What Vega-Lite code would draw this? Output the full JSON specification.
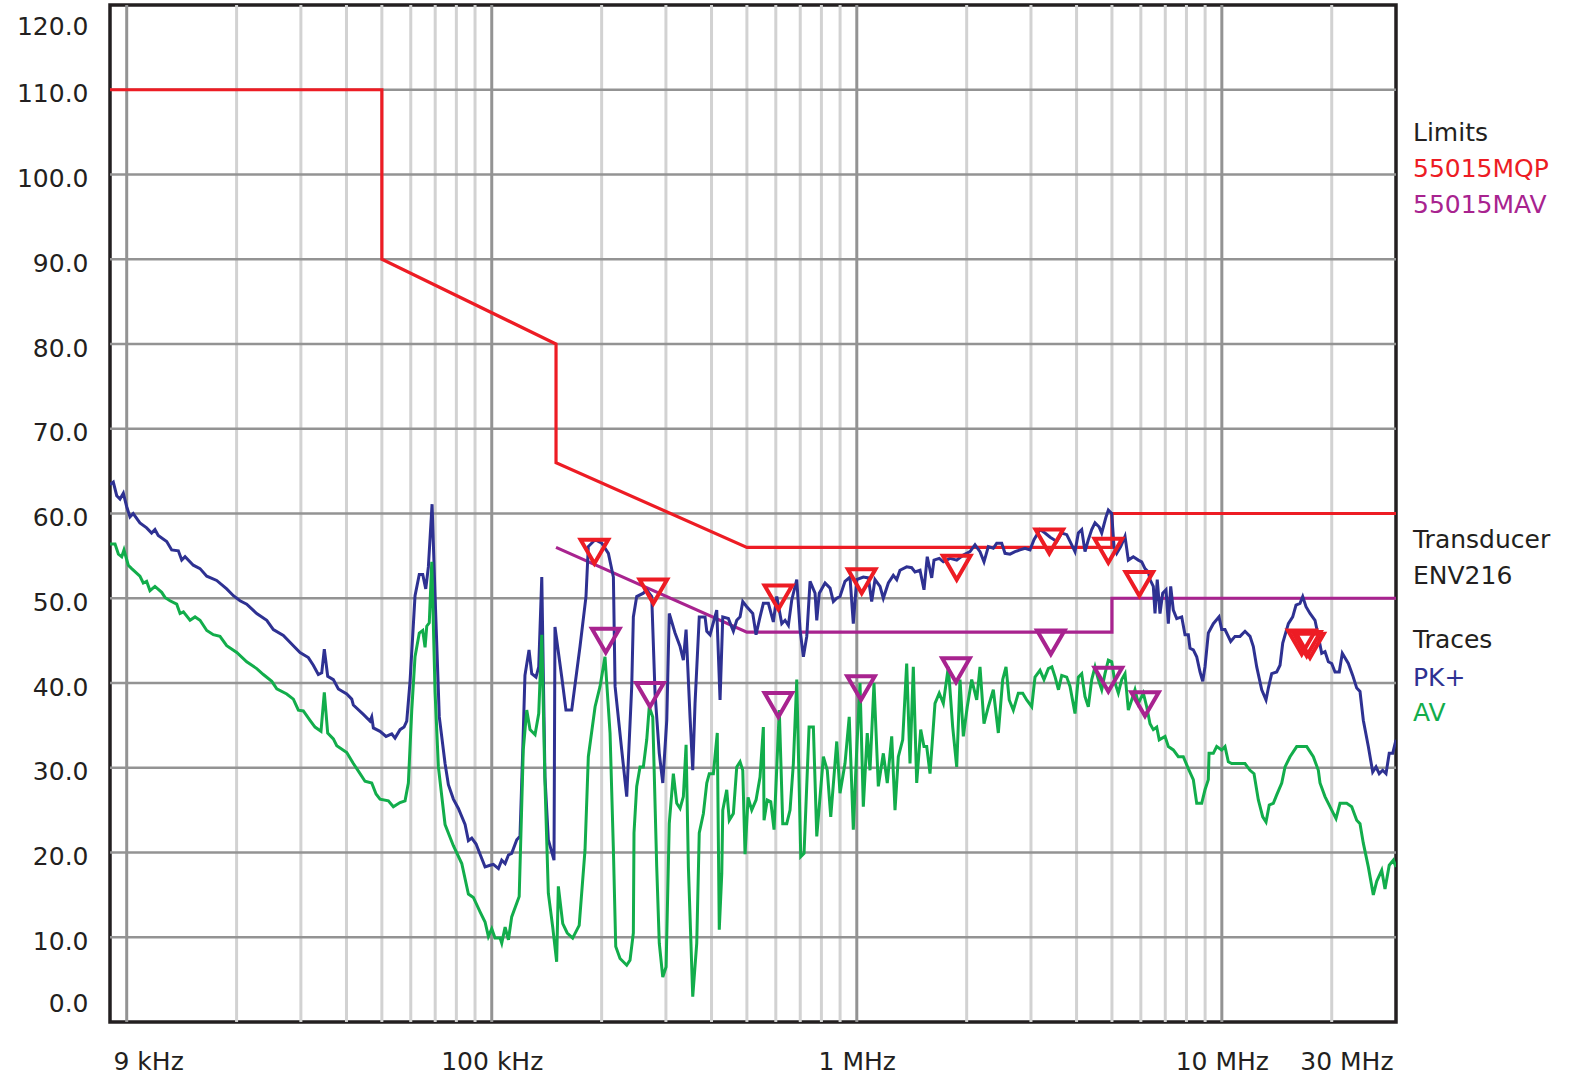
{
"$schema": "https://vega.github.io/schema/vega-lite/v6.json",
"width": 1286, "height": 1017,
"autosize": {"type": "none"},
"padding": {"left": 110, "top": 5, "right": 181, "bottom": 55},
"background": "white",
"config": {"view": {"stroke": "#231f20", "strokeWidth": 3.5}, "font": "DejaVu Sans"},
"datasets": {
"vmin": [{"f":20000},{"f":30000},{"f":40000},{"f":50000},{"f":60000},{"f":70000},{"f":80000},{"f":90000},{"f":200000},{"f":300000},{"f":400000},{"f":500000},{"f":600000},{"f":700000},{"f":800000},{"f":900000},{"f":2000000},{"f":3000000},{"f":4000000},{"f":5000000},{"f":6000000},{"f":7000000},{"f":8000000},{"f":9000000},{"f":20000000}],
"vmaj": [{"f":10000},{"f":100000},{"f":1000000},{"f":10000000}],
"hg": [{"v":10},{"v":20},{"v":30},{"v":40},{"v":50},{"v":60},{"v":70},{"v":80},{"v":90},{"v":100},{"v":110}],
"qp": [{"i":1,"f":9000,"v":110},{"i":2,"f":50000,"v":110},{"i":3,"f":50000,"v":90},{"i":4,"f":150000,"v":80},{"i":5,"f":150000,"v":66},{"i":6,"f":500000,"v":56},{"i":7,"f":5000000,"v":56},{"i":8,"f":5000000,"v":60},{"i":9,"f":30000000,"v":60}],
"avl": [{"i":1,"f":150000,"v":56},{"i":2,"f":500000,"v":46},{"i":3,"f":5000000,"v":46},{"i":4,"f":5000000,"v":50},{"i":5,"f":30000000,"v":50}],
"pk": [{"f":9000,"v":63.4},{"f":9190,"v":63.7},{"f":9390,"v":62.1},{"f":9586,"v":61.7},{"f":9790,"v":62.4},{"f":10000,"v":60.8},{"f":10210,"v":59.6},{"f":10420,"v":60.0},{"f":10870,"v":58.9},{"f":11340,"v":58.3},{"f":11700,"v":57.7},{"f":11950,"v":58.1},{"f":12200,"v":57.4},{"f":12870,"v":56.7},{"f":13280,"v":55.7},{"f":13850,"v":55.6},{"f":14150,"v":54.5},{"f":14450,"v":54.9},{"f":15220,"v":53.9},{"f":15880,"v":53.5},{"f":16570,"v":52.6},{"f":17640,"v":52.1},{"f":18790,"v":51.1},{"f":19600,"v":50.3},{"f":20440,"v":49.7},{"f":21320,"v":49.3},{"f":22710,"v":48.2},{"f":24190,"v":47.4},{"f":25220,"v":46.3},{"f":26860,"v":45.6},{"f":28610,"v":44.4},{"f":29840,"v":43.6},{"f":31450,"v":43.0},{"f":32450,"v":42.1},{"f":33490,"v":41.0},{"f":34220,"v":41.2},{"f":34780,"v":44.0},{"f":35530,"v":40.8},{"f":36820,"v":40.4},{"f":38000,"v":39.3},{"f":40070,"v":38.7},{"f":41350,"v":38.1},{"f":41770,"v":37.4},{"f":44490,"v":36.3},{"f":46410,"v":35.5},{"f":46910,"v":36.0},{"f":47390,"v":34.7},{"f":49430,"v":34.3},{"f":51340,"v":33.7},{"f":53220,"v":34.0},{"f":54330,"v":33.5},{"f":56080,"v":34.5},{"f":57510,"v":34.8},{"f":58500,"v":35.5},{"f":59730,"v":40.2},{"f":61640,"v":50.3},{"f":63310,"v":52.8},{"f":64710,"v":52.8},{"f":65950,"v":51.1},{"f":67050,"v":53.7},{"f":68630,"v":61.1},{"f":69940,"v":50.3},{"f":71830,"v":36.0},{"f":74490,"v":30.5},{"f":76070,"v":28.0},{"f":78500,"v":26.3},{"f":81020,"v":25.2},{"f":84510,"v":23.3},{"f":86300,"v":21.4},{"f":88160,"v":21.7},{"f":90590,"v":21.0},{"f":92900,"v":19.8},{"f":95870,"v":18.3},{"f":98950,"v":18.5},{"f":101000,"v":18.6},{"f":104300,"v":18.1},{"f":106500,"v":19.1},{"f":108800,"v":18.7},{"f":111100,"v":19.7},{"f":113400,"v":19.9},{"f":117100,"v":21.5},{"f":119500,"v":21.9},{"f":121600,"v":32.1},{"f":123300,"v":40.9},{"f":126500,"v":43.9},{"f":128700,"v":41.1},{"f":132200,"v":40.7},{"f":134500,"v":41.9},{"f":137100,"v":52.5},{"f":139900,"v":28.9},{"f":142900,"v":21.5},{"f":148100,"v":19.1},{"f":149000,"v":46.6},{"f":155500,"v":40.7},{"f":159700,"v":36.8},{"f":165600,"v":36.8},{"f":174500,"v":44.3},{"f":181200,"v":50.2},{"f":183900,"v":56.1},{"f":191900,"v":56.9},{"f":200100,"v":56.5},{"f":208700,"v":55.3},{"f":215400,"v":52.5},{"f":217700,"v":39.6},{"f":227000,"v":32.1},{"f":234300,"v":26.6},{"f":241800,"v":39.6},{"f":244300,"v":47.8},{"f":249500,"v":50.2},{"f":260200,"v":50.6},{"f":265800,"v":51.0},{"f":274300,"v":50.2},{"f":280100,"v":38.8},{"f":287700,"v":31.7},{"f":294100,"v":28.2},{"f":301600,"v":35.6},{"f":306400,"v":48.2},{"f":317800,"v":45.9},{"f":328000,"v":44.3},{"f":334900,"v":42.7},{"f":340700,"v":46.3},{"f":349300,"v":36.0},{"f":355300,"v":29.7},{"f":360500,"v":37.6},{"f":370200,"v":47.8},{"f":384000,"v":47.8},{"f":388200,"v":46.1},{"f":396300,"v":45.7},{"f":413400,"v":48.6},{"f":422100,"v":38.0},{"f":429400,"v":47.8},{"f":444900,"v":47.6},{"f":459100,"v":46.1},{"f":469000,"v":47.4},{"f":478900,"v":47.8},{"f":487100,"v":49.6},{"f":499600,"v":49.0},{"f":518800,"v":48.2},{"f":529700,"v":45.7},{"f":543200,"v":47.8},{"f":554700,"v":49.4},{"f":572500,"v":49.4},{"f":590800,"v":47.2},{"f":603600,"v":50.2},{"f":623000,"v":47.0},{"f":636000,"v":47.4},{"f":649500,"v":46.8},{"f":663500,"v":49.8},{"f":684800,"v":52.2},{"f":699200,"v":46.3},{"f":714000,"v":43.1},{"f":729400,"v":45.5},{"f":744700,"v":52.0},{"f":768500,"v":50.6},{"f":776900,"v":47.4},{"f":789300,"v":50.6},{"f":818600,"v":51.8},{"f":844800,"v":51.2},{"f":862600,"v":49.6},{"f":881300,"v":50.0},{"f":899500,"v":50.2},{"f":928300,"v":52.0},{"f":958100,"v":52.5},{"f":978300,"v":47.0},{"f":999500,"v":52.2},{"f":1042000,"v":52.5},{"f":1075500,"v":52.4},{"f":1098600,"v":49.6},{"f":1121700,"v":52.2},{"f":1157800,"v":51.4},{"f":1182200,"v":50.0},{"f":1220200,"v":51.8},{"f":1259100,"v":52.7},{"f":1286400,"v":52.2},{"f":1313300,"v":53.3},{"f":1370000,"v":53.7},{"f":1414000,"v":53.6},{"f":1443700,"v":53.1},{"f":1490000,"v":53.3},{"f":1528000,"v":51.0},{"f":1559600,"v":54.9},{"f":1604100,"v":52.4},{"f":1627500,"v":54.5},{"f":1682100,"v":54.7},{"f":1726100,"v":54.3},{"f":1800300,"v":54.7},{"f":1878100,"v":54.5},{"f":1958200,"v":55.1},{"f":2042500,"v":55.5},{"f":2107900,"v":56.3},{"f":2175400,"v":55.5},{"f":2230900,"v":54.3},{"f":2292700,"v":56.1},{"f":2366000,"v":55.9},{"f":2417200,"v":56.5},{"f":2494700,"v":56.5},{"f":2547000,"v":55.3},{"f":2628700,"v":55.2},{"f":2712800,"v":55.5},{"f":2799900,"v":55.7},{"f":2889500,"v":55.9},{"f":2982100,"v":55.7},{"f":3058100,"v":56.9},{"f":3176200,"v":58.1},{"f":3277800,"v":57.7},{"f":3385900,"v":57.2},{"f":3532200,"v":56.7},{"f":3642300,"v":57.7},{"f":3759100,"v":57.5},{"f":3838100,"v":56.7},{"f":3960900,"v":55.5},{"f":4045000,"v":57.7},{"f":4132000,"v":58.1},{"f":4218600,"v":55.5},{"f":4308100,"v":56.9},{"f":4401100,"v":58.1},{"f":4493400,"v":58.9},{"f":4614900,"v":58.4},{"f":4687500,"v":57.7},{"f":4816400,"v":59.6},{"f":4887400,"v":60.4},{"f":4992600,"v":60.0},{"f":5065300,"v":56.1},{"f":5152700,"v":55.3},{"f":5284200,"v":56.1},{"f":5429400,"v":57.3},{"f":5544600,"v":54.5},{"f":5721300,"v":54.9},{"f":5905100,"v":54.5},{"f":6032800,"v":54.3},{"f":6159300,"v":53.5},{"f":6290000,"v":53.1},{"f":6357000,"v":52.2},{"f":6491100,"v":51.4},{"f":6560400,"v":48.2},{"f":6653900,"v":52.2},{"f":6770900,"v":48.2},{"f":6887400,"v":50.6},{"f":7032300,"v":51.0},{"f":7135900,"v":47.0},{"f":7243400,"v":51.4},{"f":7363900,"v":48.6},{"f":7523300,"v":47.6},{"f":7764000,"v":47.8},{"f":7926800,"v":45.7},{"f":8095000,"v":45.7},{"f":8181000,"v":44.1},{"f":8353600,"v":43.9},{"f":8534400,"v":43.1},{"f":8714000,"v":41.3},{"f":8863900,"v":40.2},{"f":8992900,"v":41.9},{"f":9183700,"v":45.9},{"f":9476800,"v":47.0},{"f":9823900,"v":47.8},{"f":9992800,"v":46.3},{"f":10202000,"v":46.3},{"f":10575000,"v":44.9},{"f":10866000,"v":45.5},{"f":11215000,"v":45.5},{"f":11574000,"v":46.1},{"f":11946000,"v":45.5},{"f":12198000,"v":44.3},{"f":12462000,"v":41.9},{"f":12861000,"v":39.2},{"f":13215000,"v":38.0},{"f":13410000,"v":39.4},{"f":13697000,"v":41.1},{"f":14136000,"v":41.3},{"f":14436000,"v":42.1},{"f":14684000,"v":44.7},{"f":15214000,"v":47.0},{"f":15637000,"v":47.8},{"f":15966000,"v":49.2},{"f":16374000,"v":49.4},{"f":16656000,"v":50.2},{"f":17006000,"v":49.0},{"f":17441000,"v":48.2},{"f":17999000,"v":47.4},{"f":18304000,"v":45.9},{"f":18777000,"v":43.5},{"f":19170000,"v":43.7},{"f":19577000,"v":42.5},{"f":20000000,"v":42.3},{"f":20419000,"v":41.3},{"f":20972000,"v":41.3},{"f":21382000,"v":43.5},{"f":22210000,"v":42.3},{"f":22832000,"v":40.9},{"f":23416000,"v":39.4},{"f":23906000,"v":39.0},{"f":24410000,"v":35.6},{"f":25195000,"v":32.5},{"f":25901000,"v":29.5},{"f":26446000,"v":30.1},{"f":26988000,"v":29.3},{"f":27587000,"v":29.7},{"f":28168000,"v":29.3},{"f":28746000,"v":31.7},{"f":29383000,"v":31.7},{"f":30000000,"v":33.3}],
"av": [{"f":9000,"v":56.4},{"f":9290,"v":56.4},{"f":9490,"v":55.2},{"f":9690,"v":54.9},{"f":9830,"v":55.7},{"f":10100,"v":53.9},{"f":10320,"v":53.5},{"f":10870,"v":52.6},{"f":11100,"v":51.8},{"f":11340,"v":52.0},{"f":11580,"v":50.9},{"f":11950,"v":51.4},{"f":12470,"v":50.7},{"f":12730,"v":50.1},{"f":13140,"v":49.7},{"f":13710,"v":49.3},{"f":14000,"v":48.2},{"f":14300,"v":48.4},{"f":14910,"v":47.4},{"f":15390,"v":47.8},{"f":15880,"v":47.4},{"f":16570,"v":46.2},{"f":17270,"v":45.7},{"f":18010,"v":45.5},{"f":18790,"v":44.4},{"f":20020,"v":43.6},{"f":21320,"v":42.5},{"f":22710,"v":41.7},{"f":23680,"v":41.0},{"f":24970,"v":40.2},{"f":25770,"v":39.3},{"f":27440,"v":38.7},{"f":28610,"v":38.1},{"f":29530,"v":36.8},{"f":30470,"v":36.7},{"f":31780,"v":35.6},{"f":32800,"v":34.8},{"f":34060,"v":34.3},{"f":34780,"v":38.9},{"f":35530,"v":34.1},{"f":36820,"v":33.4},{"f":37620,"v":32.6},{"f":40070,"v":31.8},{"f":41770,"v":30.5},{"f":43120,"v":29.6},{"f":44960,"v":28.4},{"f":46910,"v":28.2},{"f":48200,"v":26.9},{"f":49430,"v":26.3},{"f":52100,"v":26.1},{"f":53760,"v":25.4},{"f":56080,"v":25.9},{"f":57870,"v":26.1},{"f":59100,"v":28.2},{"f":60380,"v":36.8},{"f":61640,"v":43.1},{"f":63310,"v":45.9},{"f":64710,"v":46.2},{"f":65660,"v":44.2},{"f":66370,"v":46.7},{"f":67430,"v":47.1},{"f":68500,"v":54.3},{"f":69940,"v":38.9},{"f":71420,"v":30.1},{"f":74490,"v":23.3},{"f":78500,"v":20.8},{"f":82770,"v":18.7},{"f":86300,"v":15.1},{"f":89060,"v":14.7},{"f":92900,"v":13.0},{"f":95870,"v":11.8},{"f":97910,"v":10.1},{"f":100000,"v":11.0},{"f":102100,"v":9.9},{"f":105400,"v":9.9},{"f":106500,"v":9.3},{"f":108800,"v":11.2},{"f":111100,"v":9.7},{"f":113400,"v":12.4},{"f":118900,"v":14.8},{"f":122000,"v":32.1},{"f":124700,"v":36.8},{"f":127300,"v":34.5},{"f":131400,"v":33.9},{"f":134500,"v":36.4},{"f":137100,"v":45.7},{"f":139900,"v":28.2},{"f":142900,"v":15.2},{"f":146900,"v":11.2},{"f":150600,"v":7.1},{"f":152200,"v":16.0},{"f":156500,"v":11.6},{"f":161000,"v":10.5},{"f":166600,"v":9.9},{"f":173600,"v":11.4},{"f":180100,"v":20.3},{"f":183900,"v":31.3},{"f":191900,"v":37.2},{"f":198000,"v":39.6},{"f":204300,"v":43.1},{"f":210900,"v":34.1},{"f":215400,"v":20.3},{"f":218600,"v":8.9},{"f":224600,"v":7.5},{"f":234300,"v":6.7},{"f":239200,"v":7.3},{"f":244300,"v":10.5},{"f":245300,"v":22.3},{"f":249500,"v":27.8},{"f":254800,"v":30.1},{"f":260200,"v":30.1},{"f":265800,"v":33.3},{"f":270100,"v":37.2},{"f":276100,"v":36.0},{"f":283100,"v":18.3},{"f":287700,"v":9.3},{"f":294100,"v":5.3},{"f":300300,"v":6.5},{"f":306400,"v":23.4},{"f":314400,"v":29.3},{"f":321200,"v":25.8},{"f":328000,"v":25.2},{"f":334900,"v":26.6},{"f":340700,"v":32.7},{"f":345700,"v":18.3},{"f":355300,"v":3.0},{"f":364400,"v":9.3},{"f":370200,"v":22.3},{"f":380000,"v":24.6},{"f":388200,"v":28.2},{"f":394400,"v":29.3},{"f":404700,"v":29.3},{"f":414800,"v":34.1},{"f":420000,"v":10.9},{"f":426700,"v":17.5},{"f":429400,"v":25.0},{"f":440300,"v":27.4},{"f":447400,"v":23.8},{"f":459100,"v":24.6},{"f":469000,"v":30.1},{"f":478900,"v":30.7},{"f":487100,"v":29.7},{"f":494200,"v":19.8},{"f":503700,"v":26.5},{"f":515500,"v":25.0},{"f":529700,"v":26.2},{"f":543200,"v":28.9},{"f":554700,"v":34.8},{"f":557100,"v":23.8},{"f":568600,"v":26.2},{"f":581200,"v":26.0},{"f":593400,"v":22.7},{"f":613300,"v":36.8},{"f":626900,"v":23.4},{"f":642900,"v":23.4},{"f":656400,"v":25.0},{"f":670300,"v":30.5},{"f":684800,"v":40.4},{"f":702300,"v":19.5},{"f":717000,"v":19.9},{"f":740100,"v":34.8},{"f":760400,"v":34.8},{"f":776900,"v":21.9},{"f":809900,"v":31.3},{"f":830200,"v":29.7},{"f":848500,"v":24.2},{"f":881300,"v":33.1},{"f":899500,"v":27.0},{"f":928300,"v":30.5},{"f":953400,"v":36.0},{"f":978300,"v":22.7},{"f":999500,"v":32.1},{"f":1020500,"v":40.0},{"f":1042000,"v":25.4},{"f":1068200,"v":34.1},{"f":1086900,"v":29.7},{"f":1114600,"v":40.0},{"f":1145500,"v":27.8},{"f":1182200,"v":31.7},{"f":1211900,"v":28.2},{"f":1246400,"v":33.7},{"f":1272600,"v":25.0},{"f":1299600,"v":31.3},{"f":1335900,"v":33.3},{"f":1370000,"v":42.3},{"f":1398900,"v":30.5},{"f":1428400,"v":41.9},{"f":1459300,"v":28.2},{"f":1496600,"v":34.5},{"f":1528000,"v":32.5},{"f":1554400,"v":32.5},{"f":1587000,"v":29.3},{"f":1637800,"v":37.6},{"f":1682100,"v":38.8},{"f":1726100,"v":37.6},{"f":1781500,"v":41.9},{"f":1831300,"v":34.8},{"f":1878100,"v":30.1},{"f":1917700,"v":40.4},{"f":1958200,"v":33.7},{"f":2007300,"v":37.2},{"f":2064600,"v":40.4},{"f":2130700,"v":38.0},{"f":2175400,"v":41.9},{"f":2230900,"v":35.2},{"f":2292700,"v":37.2},{"f":2366000,"v":39.2},{"f":2442000,"v":34.1},{"f":2510500,"v":40.4},{"f":2563300,"v":41.9},{"f":2615800,"v":38.0},{"f":2684200,"v":36.8},{"f":2770400,"v":38.8},{"f":2848100,"v":38.8},{"f":2920900,"v":38.0},{"f":3014300,"v":37.2},{"f":3077500,"v":40.7},{"f":3176200,"v":41.5},{"f":3257200,"v":40.4},{"f":3347400,"v":41.7},{"f":3422500,"v":41.9},{"f":3494300,"v":40.7},{"f":3568400,"v":39.2},{"f":3642300,"v":40.9},{"f":3759100,"v":40.7},{"f":3838100,"v":39.6},{"f":3960900,"v":36.4},{"f":4045000,"v":40.7},{"f":4132000,"v":41.1},{"f":4218600,"v":38.4},{"f":4308100,"v":37.2},{"f":4401100,"v":40.4},{"f":4493400,"v":41.9},{"f":4588800,"v":40.4},{"f":4687500,"v":39.2},{"f":4785800,"v":41.1},{"f":4887400,"v":42.7},{"f":4992600,"v":42.5},{"f":5097400,"v":40.0},{"f":5205500,"v":38.8},{"f":5317800,"v":40.4},{"f":5429400,"v":41.1},{"f":5544600,"v":36.8},{"f":5663600,"v":38.0},{"f":5782400,"v":39.2},{"f":5905100,"v":37.6},{"f":6094200,"v":38.8},{"f":6226100,"v":37.2},{"f":6357000,"v":35.2},{"f":6491100,"v":34.5},{"f":6631600,"v":34.8},{"f":6737800,"v":33.3},{"f":6987600,"v":33.7},{"f":7135900,"v":32.5},{"f":7363900,"v":32.1},{"f":7600400,"v":31.3},{"f":7843100,"v":31.3},{"f":8095000,"v":29.9},{"f":8353600,"v":28.6},{"f":8534400,"v":25.8},{"f":8808100,"v":25.8},{"f":8992900,"v":27.4},{"f":9183700,"v":28.6},{"f":9223800,"v":31.7},{"f":9476800,"v":31.7},{"f":9681900,"v":32.5},{"f":9992800,"v":32.1},{"f":10202000,"v":32.5},{"f":10419000,"v":30.7},{"f":10643000,"v":30.5},{"f":11574000,"v":30.5},{"f":11946000,"v":29.7},{"f":12251000,"v":29.3},{"f":12590000,"v":26.2},{"f":12943000,"v":24.2},{"f":13215000,"v":23.6},{"f":13486000,"v":25.6},{"f":13837000,"v":25.8},{"f":14136000,"v":26.8},{"f":14592000,"v":28.2},{"f":14898000,"v":30.1},{"f":15373000,"v":31.3},{"f":16037000,"v":32.5},{"f":17081000,"v":32.5},{"f":17809000,"v":31.3},{"f":18381000,"v":29.7},{"f":18576000,"v":28.2},{"f":19170000,"v":26.6},{"f":20000000,"v":25.0},{"f":20550000,"v":24.0},{"f":21074000,"v":25.8},{"f":21984000,"v":25.8},{"f":22688000,"v":25.4},{"f":23416000,"v":23.8},{"f":23906000,"v":23.4},{"f":24410000,"v":21.1},{"f":25195000,"v":18.3},{"f":26000000,"v":15.0},{"f":26563000,"v":16.6},{"f":27414000,"v":17.9},{"f":27989000,"v":15.7},{"f":28746000,"v":18.5},{"f":29495000,"v":19.1},{"f":30000000,"v":18.3}],
"mk": [{"f":191070,"v":55.5,"g":"qp"},{"f":277130,"v":50.8,"g":"qp"},{"f":609790,"v":50.1,"g":"qp"},{"f":1031520,"v":52.0,"g":"qp"},{"f":1878070,"v":53.6,"g":"qp"},{"f":3368360,"v":56.7,"g":"qp"},{"f":4887360,"v":55.6,"g":"qp"},{"f":5942090,"v":51.7,"g":"qp"},{"f":16550840,"v":44.8,"g":"qp"},{"f":17081360,"v":44.6,"g":"qp"},{"f":17441000,"v":44.4,"g":"qp"},{"f":205270,"v":45.0,"g":"av"},{"f":271400,"v":38.6,"g":"av"},{"f":609790,"v":37.4,"g":"av"},{"f":1026930,"v":39.4,"g":"av"},{"f":1869790,"v":41.5,"g":"av"},{"f":3400800,"v":44.8,"g":"av"},{"f":4887360,"v":40.4,"g":"av"},{"f":6159290,"v":37.5,"g":"av"}],
"lg": [{"t":"Limits","v":104.9,"g":"k"},{"t":"55015MQP","v":100.7,"g":"qp"},{"t":"55015MAV","v":96.4,"g":"av"},{"t":"Transducer","v":56.9,"g":"k"},{"t":"ENV216","v":52.6,"g":"k"},{"t":"Traces","v":45.1,"g":"k"},{"t":"PK+","v":40.6,"g":"pk"},{"t":"AV","v":36.5,"g":"avt"}]
},
"layer": [
{"data": {"name": "vmin"}, "mark": {"type": "rule", "color": "#d2d2d2", "strokeWidth": 3},
 "encoding": {
  "x": {"field": "f", "type": "quantitative", "scale": {"type": "log", "domain": [9000, 30000000], "nice": false},
   "axis": {"title": null, "values": [9000, 100000, 1000000, 10000000, 30000000],
    "labelExpr": "datum.value < 10000 ? '9 kHz' : datum.value < 200000 ? '100 kHz' : datum.value < 2000000 ? '1 MHz' : datum.value < 20000000 ? '10 MHz' : '30 MHz'",
    "grid": false, "domain": false, "ticks": false, "tickSize": 0, "labelPadding": 47, "labelBaseline": "alphabetic",
    "labelFlush": true, "labelFlushOffset": -3, "labelOverlap": false, "labelBound": false,
    "labelFont": "DejaVu Sans", "labelFontSize": 25, "labelColor": "#231f20"}},
  "y": {"datum": 0, "scale": {"domain": [0, 120], "nice": false, "zero": false},
   "axis": {"title": null, "values": [0,10,20,30,40,50,60,70,80,90,100,110,120], "format": ".1f",
    "grid": false, "domain": false, "ticks": false, "tickSize": 0, "labelPadding": 22, "labelBaseline": "middle",
    "labelOffset": {"condition": [{"test": "datum.value >= 119", "value": 21}, {"test": "datum.value <= 1", "value": -19}], "value": 4},
    "labelFlush": false, "labelOverlap": false, "labelBound": false,
    "labelFont": "DejaVu Sans", "labelFontSize": 25, "labelColor": "#231f20"}},
  "y2": {"datum": 120}}},
{"data": {"name": "vmaj"}, "mark": {"type": "rule", "color": "#939393", "strokeWidth": 3},
 "encoding": {"x": {"field": "f", "type": "quantitative"}, "y": {"datum": 0}, "y2": {"datum": 120}}},
{"data": {"name": "hg"}, "mark": {"type": "rule", "color": "#939393", "strokeWidth": 2.6},
 "encoding": {"y": {"field": "v", "type": "quantitative"}, "x": {"datum": 9000}, "x2": {"datum": 30000000}}},
{"data": {"name": "qp"}, "mark": {"type": "line", "color": "#ed1c24", "strokeWidth": 3.2, "clip": true},
 "encoding": {"x": {"field": "f", "type": "quantitative"}, "y": {"field": "v", "type": "quantitative"}, "order": {"field": "i", "type": "quantitative"}}},
{"data": {"name": "avl"}, "mark": {"type": "line", "color": "#a8238f", "strokeWidth": 3.2, "clip": true},
 "encoding": {"x": {"field": "f", "type": "quantitative"}, "y": {"field": "v", "type": "quantitative"}, "order": {"field": "i", "type": "quantitative"}}},
{"data": {"name": "pk"}, "mark": {"type": "line", "color": "#2e3192", "strokeWidth": 3, "clip": true},
 "encoding": {"x": {"field": "f", "type": "quantitative"}, "y": {"field": "v", "type": "quantitative"}}},
{"data": {"name": "av"}, "mark": {"type": "line", "color": "#12ad4b", "strokeWidth": 3, "clip": true},
 "encoding": {"x": {"field": "f", "type": "quantitative"}, "y": {"field": "v", "type": "quantitative"}}},
{"data": {"name": "mk"}, "mark": {"type": "point", "shape": "triangle-down", "filled": false, "size": 760, "strokeWidth": 4, "opacity": 1},
 "encoding": {"x": {"field": "f", "type": "quantitative"}, "y": {"field": "v", "type": "quantitative"},
  "color": {"field": "g", "type": "nominal", "legend": null,
   "scale": {"domain": ["k", "qp", "av", "pk", "avt"], "range": ["#231f20", "#ed1c24", "#a8238f", "#2e3192", "#12ad4b"]}}}},
{"data": {"name": "lg"}, "mark": {"type": "text", "align": "left", "baseline": "middle", "dx": 17, "font": "DejaVu Sans", "fontSize": 25},
 "encoding": {"x": {"datum": 30000000}, "y": {"field": "v", "type": "quantitative"}, "text": {"field": "t"},
   "color": {"field": "g", "type": "nominal", "legend": null}}}
]
}
